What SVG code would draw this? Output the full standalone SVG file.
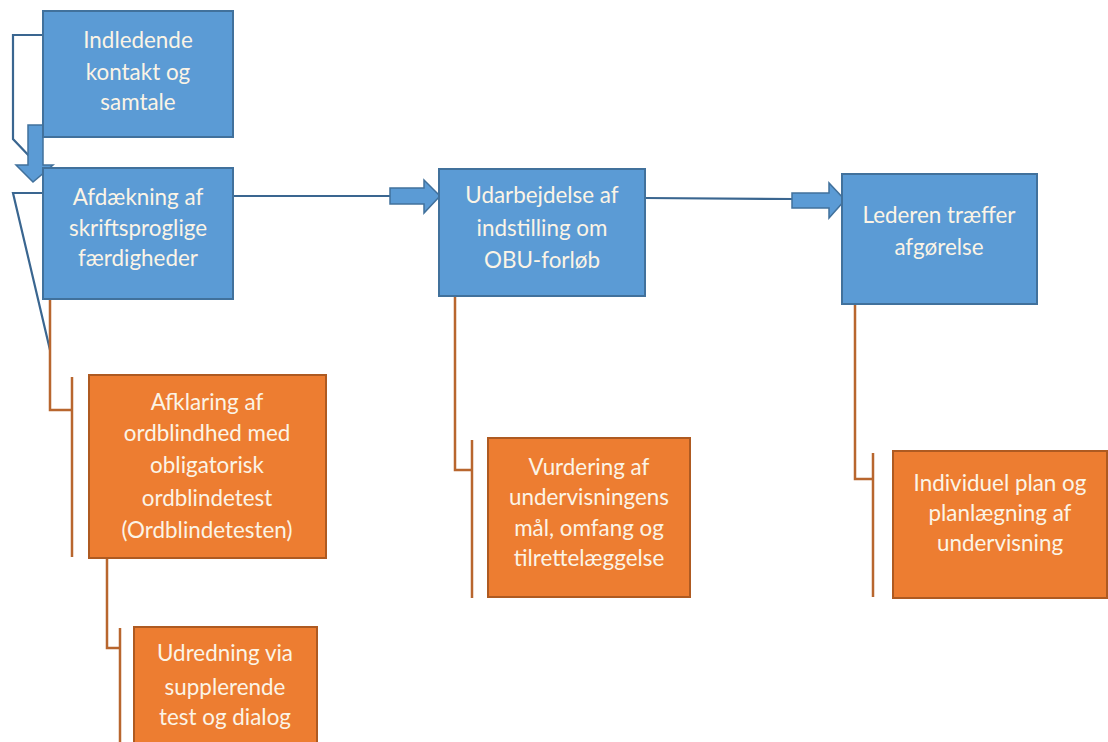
<svg xmlns="http://www.w3.org/2000/svg" width="1108" height="742" viewBox="0 0 1108 742">
<style>
.blue{fill:#5B9BD5;stroke:#41719C;stroke-width:2}
.orange{fill:#ED7D31;stroke:#AE5A21;stroke-width:2}
.t{font-family:Lato,"Open Sans","Liberation Sans",sans-serif;font-size:22.4px;fill:#FBF4E6;text-anchor:middle}
.bl{fill:none;stroke:#3A6690;stroke-width:2.2}
.or{fill:none;stroke:#B8662E;stroke-width:2.5}
.barrow{fill:#5B9BD5;stroke:#41719C;stroke-width:1.5}
</style>
<rect width="1108" height="742" fill="#fff"/>
<g id="connectors">
<polyline class="bl" points="43,35 13,35 13,139 32,159"/>
<polyline class="bl" points="43,193 13,193 50,350"/>
<line class="bl" x1="233" y1="196" x2="392" y2="196"/>
<line class="bl" x1="645" y1="198" x2="793" y2="199"/>
<polygon class="barrow" points="28,125 43,125 43,165 53,165 33,182 16,165 28,165"/>
<polygon class="barrow" points="390,188 424,188 424,180 440,196 424,213 424,204 390,204"/>
<polygon class="barrow" points="792,193 829,193 829,183 845,200 829,218 829,208 792,208"/>
<polyline class="or" points="50,299 50,410 72,410"/>
<line class="or" x1="72" y1="377" x2="72" y2="557"/>
<polyline class="or" points="107,558 107,648 120,648"/>
<line class="or" x1="120" y1="628" x2="120" y2="742"/>
<polyline class="or" points="455,296 455,470 472,470"/>
<line class="or" x1="472" y1="440" x2="472" y2="598"/>
<polyline class="or" points="855,304 855,479 873,479"/>
<line class="or" x1="873" y1="453" x2="873" y2="597"/>
</g>
<g id="n1"><rect class="blue" x="43" y="11" width="190" height="126"/>
<text class="t" x="138" y="48">Indledende</text><text class="t" x="138" y="80">kontakt og</text><text class="t" x="138" y="110">samtale</text></g>
<g id="n2"><rect class="blue" x="43" y="168" width="190" height="131"/>
<text class="t" x="138" y="205">Afdækning af</text><text class="t" x="138" y="236">skriftsproglige</text><text class="t" x="138" y="266">færdigheder</text></g>
<g id="n3"><rect class="blue" x="439" y="169" width="206" height="127"/>
<text class="t" x="542" y="203">Udarbejdelse af</text><text class="t" x="542" y="236">indstilling om</text><text class="t" x="542" y="268">OBU-forløb</text></g>
<g id="n4"><rect class="blue" x="842" y="174" width="195" height="130"/>
<text class="t" x="939" y="223">Lederen træffer</text><text class="t" x="939" y="255">afgørelse</text></g>
<g id="n5"><rect class="orange" x="89" y="375" width="237" height="183"/>
<text class="t" x="207" y="410">Afklaring af</text><text class="t" x="207" y="441">ordblindhed med</text><text class="t" x="207" y="473">obligatorisk</text><text class="t" x="207" y="506">ordblindetest</text><text class="t" x="207" y="538">(Ordblindetesten)</text></g>
<g id="n6"><rect class="orange" x="134" y="627" width="183" height="130"/>
<text class="t" x="225" y="661">Udredning via</text><text class="t" x="225" y="695">supplerende</text><text class="t" x="225" y="725">test og dialog</text></g>
<g id="n7"><rect class="orange" x="488" y="438" width="202" height="159"/>
<text class="t" x="589" y="475">Vurdering af</text><text class="t" x="589" y="505">undervisningens</text><text class="t" x="589" y="536">mål, omfang og</text><text class="t" x="589" y="566">tilrettelæggelse</text></g>
<g id="n8"><rect class="orange" x="893" y="451" width="214" height="147"/>
<text class="t" x="1000" y="491">Individuel plan og</text><text class="t" x="1000" y="521">planlægning af</text><text class="t" x="1000" y="551">undervisning</text></g>
</svg>
